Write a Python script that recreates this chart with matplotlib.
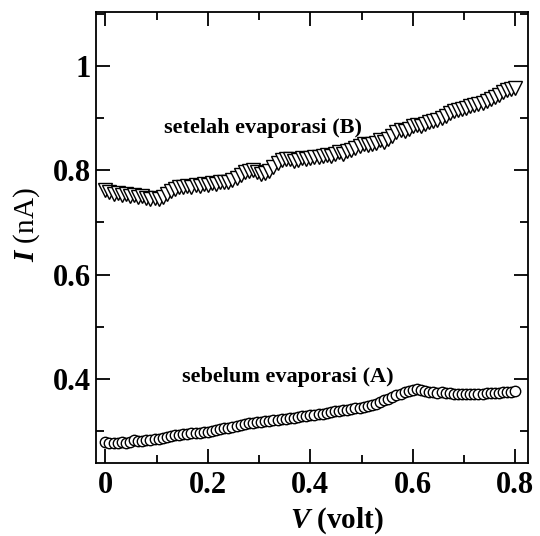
import matplotlib
matplotlib.use("Agg")
import matplotlib.pyplot as plt
from matplotlib.ticker import MultipleLocator

plt.rcParams['font.family'] = ['Liberation Serif', 'DejaVu Serif']
plt.rcParams['mathtext.fontset'] = 'custom'
plt.rcParams['mathtext.it'] = 'Liberation Serif:italic:bold'
plt.rcParams['mathtext.rm'] = 'Liberation Serif:bold'

voltage = [k * 0.008 for k in range(101)]

current_a = [0.279, 0.278, 0.277, 0.278, 0.279, 0.278, 0.280, 0.283, 0.282, 0.281,
             0.283, 0.284, 0.285, 0.286, 0.287, 0.289, 0.290, 0.292, 0.293, 0.294,
             0.295, 0.296, 0.297, 0.297, 0.298, 0.299, 0.301, 0.302, 0.304, 0.306,
             0.307, 0.309, 0.310, 0.312, 0.313, 0.315, 0.316, 0.317, 0.318, 0.319,
             0.320, 0.321, 0.322, 0.323, 0.324, 0.325, 0.326, 0.328, 0.329, 0.330,
             0.331, 0.332, 0.333, 0.334, 0.335, 0.336, 0.338, 0.339, 0.340, 0.341,
             0.342, 0.344, 0.345, 0.347, 0.349, 0.351, 0.353, 0.356, 0.359, 0.362,
             0.366, 0.369, 0.372, 0.375, 0.377, 0.379, 0.380, 0.379, 0.378, 0.376,
             0.375, 0.374, 0.375, 0.374, 0.373, 0.372, 0.371, 0.371, 0.371, 0.372,
             0.371, 0.372, 0.372, 0.373, 0.373, 0.374, 0.374, 0.375, 0.375, 0.376,
             0.377]

current_b = [0.762, 0.758, 0.755, 0.757, 0.752, 0.754, 0.750, 0.752, 0.748, 0.750,
             0.746, 0.745, 0.747, 0.744, 0.749, 0.754, 0.760, 0.765, 0.768, 0.767,
             0.770, 0.768, 0.771, 0.770, 0.773, 0.772, 0.775, 0.774, 0.777, 0.778,
             0.777, 0.781, 0.786, 0.791, 0.796, 0.799, 0.800, 0.796, 0.792, 0.794,
             0.798, 0.806, 0.814, 0.819, 0.821, 0.822, 0.818, 0.820, 0.823, 0.822,
             0.824, 0.826, 0.825, 0.828, 0.830, 0.828, 0.832, 0.834, 0.832, 0.836,
             0.839, 0.843, 0.847, 0.850, 0.848, 0.851, 0.853, 0.857, 0.855, 0.860,
             0.866, 0.873, 0.878, 0.876, 0.879, 0.884, 0.886, 0.884, 0.889, 0.892,
             0.894, 0.897, 0.900, 0.904, 0.909, 0.913, 0.916, 0.918, 0.920, 0.923,
             0.925, 0.926, 0.929, 0.933, 0.936, 0.940, 0.945, 0.949, 0.953, 0.956,
             0.958]

label_a = "sebelum evaporasi (A)"
label_b = "setelah evaporasi (B)"

fig = plt.figure(figsize=(5.4, 5.36), dpi=100)
ax = fig.add_axes([0.178, 0.136, 0.800, 0.842])

ax.plot(voltage, current_a, linestyle='none', marker='o', markersize=7.5,
        markerfacecolor='white', markeredgecolor='black', markeredgewidth=1.0)
ax.plot(voltage, current_b, linestyle='none', marker='v', markersize=10,
        markerfacecolor='white', markeredgecolor='black', markeredgewidth=1.0)

ax.text(0.307, 0.881, label_b, fontsize=16, fontweight='bold', ha='center', va='center')
ax.text(0.356, 0.404, label_a, fontsize=16, fontweight='bold', ha='center', va='center')

ax.set_xlim(-0.018, 0.825)
ax.set_ylim(0.239, 1.1035)
ax.xaxis.set_minor_locator(MultipleLocator(0.1))
ax.yaxis.set_minor_locator(MultipleLocator(0.1))
ax.set_xticks([0, 0.2, 0.4, 0.6, 0.8])
ax.set_xticklabels(['0', '0.2', '0.4', '0.6', '0.8'])
ax.set_yticks([0.4, 0.6, 0.8, 1.0])
ax.set_yticklabels(['0.4', '0.6', '0.8', '1'])

ax.tick_params(which='both', direction='in', top=True, right=True, width=1.3)
ax.tick_params(which='major', length=10, labelsize=22)
ax.tick_params(axis='x', which='major', pad=6)
ax.tick_params(axis='y', which='major', pad=4)
ax.tick_params(which='minor', length=6)
for lbl in ax.get_xticklabels() + ax.get_yticklabels():
    lbl.set_fontweight('bold')
for sp in ax.spines.values():
    sp.set_linewidth(1.3)

ax.set_xlabel('$V$ (volt)', fontsize=21, fontweight='bold')
ax.set_ylabel('$I$ (nA)', fontsize=21)
ax.xaxis.set_label_coords(0.558, -0.093)
ax.yaxis.set_label_coords(-0.125, 0.528)

fig.savefig('out.png', dpi=100)
